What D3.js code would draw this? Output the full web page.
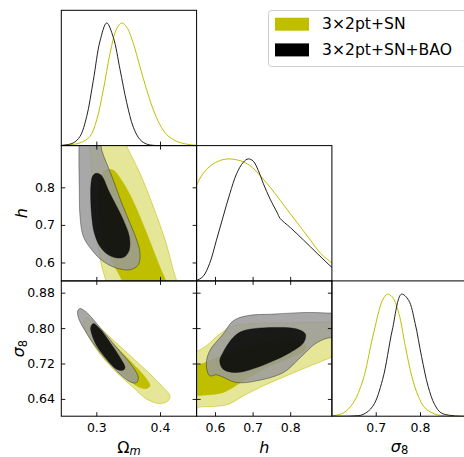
<!DOCTYPE html>
<html>
<head>
<meta charset="utf-8">
<script src="https://cdn.jsdelivr.net/npm/d3@7"></script>
<style>
body{margin:0;background:#fff;overflow:hidden;}
svg{display:block;font-family:"DejaVu Sans",sans-serif;}
</style>
</head>
<body>
<svg id="chart" width="464" height="457"></svg>
<script>
// chains in legend order
var seriesNames = ["3×2pt+SN", "3×2pt+SN+BAO"];

// axis domains and ticks
var omRange = [0.245, 0.4575];
var hRange = [0.551, 0.911];
var s8Range = [0.601, 0.9066];
var omTicks = [0.3, 0.4];
var omTickLabels = ["0.3", "0.4"];
var hTicks = [0.6, 0.7, 0.8];
var hTickLabels = ["0.6", "0.7", "0.8"];
var s8Ticks = [0.64, 0.72, 0.80, 0.88];
var s8TickLabels = ["0.64", "0.72", "0.80", "0.88"];
var s8TicksBottom = [0.7, 0.8];
var s8TickLabelsBottom = ["0.7", "0.8"];

// 1D marginals [value, P/Pmax]
var omPdfSN = [[0.235,0],[0.2535,0.004],[0.2744,0.022],[0.2901,0.075],[0.3006,0.21],[0.311,0.453],[0.3215,0.749],[0.332,0.951],[0.3399,0.997],[0.3477,0.964],[0.3581,0.83],[0.3686,0.641],[0.3791,0.453],[0.3895,0.291],[0.4,0.17],[0.4105,0.089],[0.4262,0.035],[0.4419,0.012],[0.4576,0.002],[0.47,0]];
var omPdfBAO = [[0.235,0],[0.2482,0.003],[0.2639,0.022],[0.2744,0.075],[0.2849,0.237],[0.2953,0.53],[0.3058,0.85],[0.3163,0.997],[0.3267,0.88],[0.3372,0.62],[0.3477,0.35],[0.3581,0.15],[0.3686,0.049],[0.3791,0.012],[0.3895,0.002],[0.41,0]];
var hPdfSN = [[0.54,0.7],[0.5483,0.762],[0.5678,0.871],[0.5946,0.951],[0.6214,0.986],[0.6394,0.992],[0.6662,0.978],[0.693,0.938],[0.7198,0.857],[0.7466,0.762],[0.7735,0.655],[0.8003,0.547],[0.8271,0.439],[0.8539,0.331],[0.8807,0.224],[0.912,0.143],[0.925,0.11]];
var hPdfBAO = [[0.54,0],[0.5483,0.002],[0.5678,0.035],[0.5858,0.143],[0.6038,0.331],[0.6214,0.52],[0.6394,0.709],[0.6574,0.871],[0.6751,0.964],[0.6885,0.992],[0.7019,0.973],[0.7153,0.897],[0.7287,0.79],[0.7466,0.665],[0.7646,0.56],[0.7735,0.507],[0.8003,0.434],[0.8359,0.331],[0.8718,0.224],[0.912,0.108],[0.925,0.08]];
var s8PdfSN = [[0.59,0],[0.6053,0.005],[0.6273,0.027],[0.6493,0.108],[0.6714,0.297],[0.6934,0.647],[0.7154,0.943],[0.7264,0.992],[0.7374,0.97],[0.7522,0.836],[0.767,0.566],[0.7815,0.323],[0.7963,0.162],[0.811,0.068],[0.833,0.019],[0.8623,0],[0.91,0]];
var s8PdfBAO = [[0.6,0],[0.6493,0.002],[0.6714,0.014],[0.6934,0.081],[0.7154,0.297],[0.7374,0.701],[0.7581,0.992],[0.7742,0.943],[0.789,0.755],[0.8035,0.485],[0.8183,0.243],[0.833,0.095],[0.8476,0.027],[0.8696,0.006],[0.8916,0],[0.92,0]];

// 2D contours [x, y]; 95% and 68% regions
var omH_SN_95 = [[0.2838,0.9785],[0.289,0.9095],[0.2928,0.8371],[0.2969,0.7485],[0.3016,0.6602],[0.3085,0.5894],[0.3152,0.5515],[0.3246,0.501],[0.4393,0.501],[0.4262,0.5515],[0.408,0.6602],[0.3895,0.7485],[0.3686,0.8371],[0.3477,0.9095],[0.3294,0.9785]];
var omH_SN_68 = [[0.3058,0.8247],[0.3152,0.8459],[0.3262,0.8459],[0.3372,0.8247],[0.353,0.7796],[0.3686,0.7212],[0.3843,0.6549],[0.4016,0.5806],[0.4094,0.5515],[0.4188,0.501],[0.3451,0.501],[0.3403,0.5515],[0.3246,0.6019],[0.3105,0.6602],[0.3042,0.7265],[0.3027,0.7796]];
var omH_BAO_95 = [[0.2728,0.9096],[0.2733,0.7928],[0.2744,0.722],[0.2796,0.669],[0.2928,0.6334],[0.311,0.6027],[0.332,0.585],[0.353,0.5806],[0.366,0.594],[0.3686,0.625],[0.3634,0.66],[0.353,0.7045],[0.34,0.7576],[0.3267,0.819],[0.3163,0.8637],[0.3085,0.899],[0.305,0.935],[0.29,0.955],[0.274,0.935]];
var omH_BAO_68 = [[0.2995,0.8371],[0.3058,0.8345],[0.311,0.824],[0.3188,0.7928],[0.3294,0.7576],[0.3424,0.7133],[0.3518,0.669],[0.3518,0.6337],[0.345,0.616],[0.3345,0.6117],[0.3188,0.6204],[0.3058,0.6424],[0.2969,0.678],[0.2928,0.722],[0.2912,0.7663],[0.2917,0.8106],[0.2943,0.83]];

var omS8_SN_95 = [[0.2823,0.824],[0.2901,0.8203],[0.3163,0.7864],[0.3477,0.7449],[0.3791,0.7035],[0.4052,0.6658],[0.4157,0.647],[0.413,0.6358],[0.4,0.6296],[0.3791,0.6395],[0.3581,0.6658],[0.332,0.6997],[0.3058,0.7412],[0.2874,0.7826],[0.2796,0.809]];
var omS8_SN_68 = [[0.298,0.8014],[0.3058,0.7955],[0.3267,0.7638],[0.353,0.7261],[0.3791,0.6847],[0.3843,0.6696],[0.3791,0.6635],[0.3659,0.6673],[0.3477,0.6884],[0.3215,0.7261],[0.3031,0.76],[0.2953,0.7864]];
var omS8_BAO_95 = [[0.2744,0.8443],[0.2849,0.8353],[0.3058,0.8014],[0.332,0.7562],[0.3581,0.711],[0.3659,0.6884],[0.3634,0.6771],[0.3556,0.6771],[0.3372,0.696],[0.3058,0.7449],[0.2823,0.7939],[0.2717,0.824],[0.2708,0.8391]];
var omS8_BAO_68 = [[0.2953,0.8104],[0.3058,0.7977],[0.3215,0.7675],[0.3372,0.7336],[0.345,0.711],[0.3424,0.7051],[0.332,0.7073],[0.3163,0.7299],[0.3006,0.76],[0.2928,0.7864],[0.2912,0.8014]];

var hS8_SN_95 = [[0.5054,0.7216],[0.5483,0.7449],[0.5769,0.76],[0.6126,0.7864],[0.6483,0.8052],[0.711,0.8104],[0.8003,0.812],[0.912,0.8149],[0.9477,0.821],[0.9477,0.7487],[0.912,0.7351],[0.8539,0.7148],[0.8003,0.696],[0.7287,0.6696],[0.6751,0.6469],[0.6306,0.6266],[0.5483,0.6206],[0.5054,0.6086]];
var hS8_SN_68 = [[0.5054,0.708],[0.5483,0.7148],[0.5858,0.7261],[0.6394,0.7449],[0.711,0.7638],[0.7823,0.7713],[0.8359,0.7675],[0.8405,0.7525],[0.8003,0.7336],[0.7378,0.711],[0.6751,0.6809],[0.6214,0.6545],[0.5483,0.647],[0.5054,0.6402]];
var hS8_BAO_95 = [[0.5858,0.6922],[0.5769,0.7186],[0.5858,0.7487],[0.6214,0.7864],[0.6483,0.8165],[0.6842,0.8278],[0.7555,0.8316],[0.845,0.8353],[0.912,0.8339],[0.9477,0.8346],[0.9477,0.7713],[0.912,0.7788],[0.8718,0.7675],[0.8271,0.7336],[0.7823,0.6997],[0.711,0.6809],[0.6574,0.6771],[0.6038,0.6944]];
var hS8_BAO_68 = [[0.6126,0.7261],[0.6214,0.7449],[0.6483,0.7788],[0.6751,0.7939],[0.7555,0.8014],[0.8182,0.7977],[0.8405,0.7864],[0.8359,0.7675],[0.8003,0.7449],[0.7555,0.7261],[0.711,0.711],[0.6574,0.6997],[0.6214,0.7073]];

var snColor = "#bfbf00", snPale = "#e6e699";
var baoColor = "#000000", baoPale = "#999999";

var svg = d3.select("#chart");
var size = 135.3, padLeft = 61.3, padTop = 10.3;

var scales = {
	om: d3.scaleLinear().domain(omRange),
	h: d3.scaleLinear().domain(hRange),
	s8: d3.scaleLinear().domain(s8Range)
};
var ticks = {
	om: [omTicks, omTickLabels, omTicks, omTickLabels],
	h: [hTicks, hTickLabels, hTicks, hTickLabels],
	s8: [s8Ticks, s8TickLabels, s8TicksBottom, s8TickLabelsBottom]
};
var params = ["om", "h", "s8"];

var defs = svg.append("defs");

function makePanel(row, col){
	var g = svg.append("g").attr("transform", "translate(" + (padLeft + col*size) + "," + (padTop + row*size) + ")");
	var id = "clip" + row + col;
	defs.append("clipPath").attr("id", id)
		.append("rect").attr("width", size).attr("height", size);
	var inner = g.append("g").attr("clip-path", "url(#" + id + ")");
	return {g: g, inner: inner};
}

function frame(g){
	g.append("rect").attr("width", size).attr("height", size)
		.style("fill", "none").style("stroke", "#000").style("stroke-width", 1);
}

function tickAxis(g, axis, tx, ty){
	var a = g.append("g").attr("transform", "translate(" + tx + "," + ty + ")").call(axis);
	a.select(".domain").remove();
	a.selectAll("line").style("stroke", "#000").style("stroke-width", 0.9);
	a.selectAll("text").style("font-size", "12.5px").style("font-family", "DejaVu Sans").style("fill", "#000");
	return a;
}

function fillRegion(inner, pts, xs, ys, fill, op, stroke){
	var line = d3.line()
		.x(function(d){ return xs(d[0]); })
		.y(function(d){ return ys(d[1]); })
		.curve(d3.curveCatmullRomClosed.alpha(0.5));
	inner.append("path").attr("d", line(pts))
		.style("fill", fill).style("fill-opacity", op)
		.style("stroke", stroke).style("stroke-opacity", op < 1 ? 0.45 : 0.7).style("stroke-width", 0.8);
}

var contours = {
	"1,0": [omH_SN_95, omH_SN_68, omH_BAO_95, omH_BAO_68],
	"2,0": [omS8_SN_95, omS8_SN_68, omS8_BAO_95, omS8_BAO_68],
	"2,1": [hS8_SN_95, hS8_SN_68, hS8_BAO_95, hS8_BAO_68]
};
var pdfs = {
	om: [omPdfSN, omPdfBAO],
	h: [hPdfSN, hPdfBAO],
	s8: [s8PdfSN, s8PdfBAO]
};

for(var r = 0; r < 3; r++){
	for(var c = 0; c <= r; c++){
		var p = makePanel(r, c);
		var px = params[c], py = params[r];
		var xs = scales[px].copy().range([0, size]);
		var xt = ticks[px][r == 2 && c == 2 ? 2 : 0];
		var xl = ticks[px][r == 2 && c == 2 ? 3 : 1];
		var ys;
		if(r == c){
			ys = d3.scaleLinear().domain([0, 1.1]).range([size, 0]);
			var curve = d3.line()
				.x(function(d){ return xs(d[0]); })
				.y(function(d){ return ys(d[1]); })
				.curve(d3.curveCatmullRom.alpha(0.5));
			p.inner.append("path").attr("d", curve(pdfs[px][0]))
				.style("fill", "none").style("stroke", snColor).style("stroke-width", 1);
			p.inner.append("path").attr("d", curve(pdfs[px][1]))
				.style("fill", "none").style("stroke", "#222").style("stroke-width", 1);
		}
		else{
			ys = scales[py].copy().range([size, 0]);
			var set = contours[r + "," + c];
			fillRegion(p.inner, set[0], xs, ys, snPale, 1, snColor);
			fillRegion(p.inner, set[1], xs, ys, snColor, 1, snColor);
			fillRegion(p.inner, set[2], xs, ys, baoPale, 0.85, baoColor);
			fillRegion(p.inner, set[3], xs, ys, baoColor, 0.85, baoColor);
			// inward ticks on the other three sides
			tickAxis(p.g, d3.axisTop(xs).tickValues(xt).tickSize(-4).tickFormat(""), 0, 0);
			tickAxis(p.g, d3.axisRight(ys).tickValues(ticks[py][0]).tickSize(-4).tickFormat(""), size, 0);
			var yl = d3.axisLeft(ys).tickValues(ticks[py][0]).tickSize(-4).tickPadding(6.3);
			if(c == 0){
				var labs = ticks[py][1];
				yl.tickFormat(function(d, i){ return labs[i]; });
			}
			else yl.tickFormat("");
			tickAxis(p.g, yl, 0, 0);
		}
		var xb = d3.axisBottom(xs).tickValues(xt).tickSize(-4).tickPadding(6.5);
		if(r == 2){
			xb.tickFormat(function(d, i){ return xl[i]; });
		}
		else xb.tickFormat("");
		tickAxis(p.g, xb, 0, size);
		frame(p.g);
	}
}

// axis labels
var lab = svg.append("g").style("font-family", "DejaVu Sans").style("font-size", "16px").style("fill", "#000");
var bx = lab.append("text").attr("x", padLeft + size*0.5).attr("y", 453).attr("text-anchor", "middle");
bx.append("tspan").text("Ω");
bx.append("tspan").text("m").style("font-style", "italic").style("font-size", "11.5px").attr("dy", 2);
lab.append("text").attr("x", padLeft + size*1.5).attr("y", 453).attr("text-anchor", "middle")
	.style("font-style", "italic").text("h");
var bs = lab.append("text").attr("x", padLeft + size*2.5).attr("y", 451.5).attr("text-anchor", "middle");
bs.append("tspan").text("σ").style("font-style", "italic");
bs.append("tspan").text("8").style("font-size", "11.5px").attr("dy", 2.5);

lab.append("text").attr("transform", "translate(26.5," + (padTop + size*1.5) + ") rotate(-90)")
	.attr("text-anchor", "middle").style("font-style", "italic").text("h");
var ls = lab.append("text").attr("transform", "translate(24," + (padTop + size*2.5) + ") rotate(-90)")
	.attr("text-anchor", "middle");
ls.append("tspan").text("σ").style("font-style", "italic");
ls.append("tspan").text("8").style("font-size", "11.5px").attr("dy", 2.5);

// legend
var leg = svg.append("g");
leg.append("rect").attr("x", 268.5).attr("y", 10.5).attr("width", 200).attr("height", 56).attr("rx", 3)
	.style("fill", "#fff").style("stroke", "#cccccc").style("stroke-width", 1);
var legColors = [snColor, baoColor];
seriesNames.forEach(function(name, i){
	leg.append("rect").attr("x", 275).attr("y", 17.7 + i*25.7).attr("width", 34).attr("height", 13)
		.style("fill", legColors[i]);
	leg.append("text").attr("x", 322).attr("y", 29 + i*25.7)
		.style("font-family", "DejaVu Sans").style("font-size", "15.6px").style("fill", "#000")
		.text(name);
});
</script>
</body>
</html>
